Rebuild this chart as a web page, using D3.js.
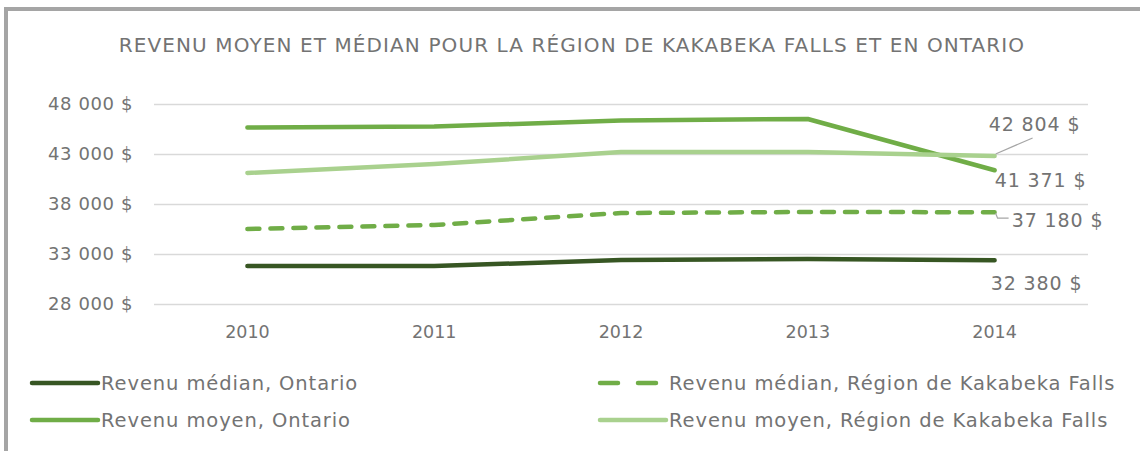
<!DOCTYPE html>
<html>
<head>
<meta charset="utf-8">
<script src="https://cdn.jsdelivr.net/npm/d3@7"></script>
<style>
  html, body { margin: 0; padding: 0; background: #fff; }
  svg { display: block; }
</style>
</head>
<body>
<div id="chart"></div>
<script>
// Revenu moyen et médian — Kakabeka Falls vs Ontario

const years = ['2010', '2011', '2012', '2013', '2014'];
const medianOntario = [31800, 31800, 32400, 32500, 32380];
const medianKakabeka = [35500, 35900, 37100, 37200, 37180];
const moyenOntario = [45650, 45750, 46350, 46500, 41371];
const moyenKakabeka = [41100, 42000, 43200, 43200, 42804];
const yTicks = [28000, 33000, 38000, 43000, 48000];

const FONT = "'DejaVu Sans', sans-serif";
const TEXT = '#737373';

const series = [
  { name: 'Revenu médian, Ontario', values: medianOntario, color: '#375623', dash: null },
  { name: 'Revenu médian, Région de Kakabeka Falls', values: medianKakabeka, color: '#70AD47', dash: '12,11' },
  { name: 'Revenu moyen, Ontario', values: moyenOntario, color: '#70AD47', dash: null },
  { name: 'Revenu moyen, Région de Kakabeka Falls', values: moyenKakabeka, color: '#A9D18E', dash: null },
];

const width = 1140, height = 451;
const margin = { left: 154, right: 52, top: 104, bottom: 147 };

const svg = d3.select('#chart').append('svg')
  .attr('width', width)
  .attr('height', height);

// frame (only top and left edge are visible in the crop)
svg.append('rect')
  .attr('x', 6).attr('y', 9)
  .attr('width', width).attr('height', height)
  .attr('fill', 'none')
  .attr('stroke', '#A5A5A5')
  .attr('stroke-width', 4);

svg.append('text')
  .attr('x', 572).attr('y', 52)
  .attr('text-anchor', 'middle')
  .attr('fill', TEXT)
  .attr('font-family', FONT)
  .attr('font-size', 20)
  .attr('letter-spacing', 1.1)
  .text('REVENU MOYEN ET MÉDIAN POUR LA RÉGION DE KAKABEKA FALLS ET EN ONTARIO');

const x = d3.scaleBand()
  .domain(years)
  .range([margin.left, width - margin.right]);

const y = d3.scaleLinear()
  .domain([28000, 48000])
  .range([height - margin.bottom, margin.top]);

const fmt = v => d3.format(',')(v).replace(/,/g, ' ') + ' $';

// gridlines + y labels
const yAxis = svg.append('g')
  .attr('transform', `translate(${margin.left},0)`)
  .call(d3.axisLeft(y).tickValues(yTicks)
    .tickSize(-(width - margin.left - margin.right))
    .tickPadding(21)
    .tickFormat(fmt));
yAxis.select('.domain').remove();
yAxis.selectAll('line').attr('stroke', '#D9D9D9').attr('stroke-width', 1.5);
yAxis.selectAll('text')
  .attr('fill', TEXT)
  .attr('font-family', FONT)
  .attr('font-size', 18)
  .attr('letter-spacing', 0.6);

// x labels
const xAxis = svg.append('g')
  .attr('transform', `translate(0,${height - margin.bottom})`)
  .call(d3.axisBottom(x).tickSize(0).tickPadding(22));
xAxis.select('.domain').remove();
xAxis.selectAll('text')
  .attr('fill', TEXT)
  .attr('font-family', FONT)
  .attr('font-size', 17.5);

const cx = d => x(d) + x.bandwidth() / 2;

const line = d3.line()
  .x((d, i) => cx(years[i]))
  .y(d => y(d));

svg.append('g').selectAll('path')
  .data(series)
  .join('path')
  .attr('d', d => line(d.values))
  .attr('fill', 'none')
  .attr('stroke', d => d.color)
  .attr('stroke-width', 4.5)
  .attr('stroke-linecap', 'round')
  .attr('stroke-linejoin', 'round')
  .attr('stroke-dasharray', d => d.dash);

// data labels for 2014
const last = years.length - 1;
const lx = cx(years[last]);
const labels = [
  { v: moyenKakabeka[last], dx: 40, dy: -32 },
  { v: moyenOntario[last], dx: 46, dy: 10 },
  { v: medianKakabeka[last], dx: 63, dy: 8 },
  { v: medianOntario[last], dx: 42, dy: 23 },
];
svg.append('g').selectAll('text')
  .data(labels)
  .join('text')
  .attr('x', d => lx + d.dx)
  .attr('y', d => y(d.v) + d.dy)
  .attr('text-anchor', 'middle')
  .attr('dominant-baseline', 'central')
  .attr('fill', TEXT)
  .attr('font-family', FONT)
  .attr('font-size', 19)
  .attr('letter-spacing', 0.9)
  .text(d => fmt(d.v));

// leader lines
const lead = svg.append('g').attr('fill', 'none').attr('stroke', '#A6A6A6').attr('stroke-width', 1.2);
lead.append('path')
  .attr('d', `M${lx + 1},${y(moyenKakabeka[last]) - 2} L${lx + 38},${y(moyenKakabeka[last]) - 18}`);
lead.append('path')
  .attr('d', `M${lx + 1},${y(medianKakabeka[last]) + 1} L${lx + 3},${y(medianKakabeka[last]) + 6} L${lx + 14},${y(medianKakabeka[last]) + 6}`);

// legend
const legendItems = [
  { s: series[0], x: 30, y: 383 },
  { s: series[1], x: 598, y: 383 },
  { s: series[2], x: 30, y: 420 },
  { s: series[3], x: 598, y: 420 },
];
const lg = svg.append('g').selectAll('g')
  .data(legendItems)
  .join('g')
  .attr('transform', d => `translate(${d.x},${d.y})`);
lg.append('line')
  .attr('x1', 2).attr('x2', 68)
  .attr('stroke', d => d.s.color)
  .attr('stroke-width', 4.5)
  .attr('stroke-linecap', 'round')
  .attr('stroke-dasharray', d => d.s.dash ? '18,20' : null);
lg.append('text')
  .attr('x', 71)
  .attr('dominant-baseline', 'central')
  .attr('fill', TEXT)
  .attr('font-family', FONT)
  .attr('font-size', 19.5)
  .attr('letter-spacing', 0.9)
  .text(d => d.s.name);
</script>
</body>
</html>
